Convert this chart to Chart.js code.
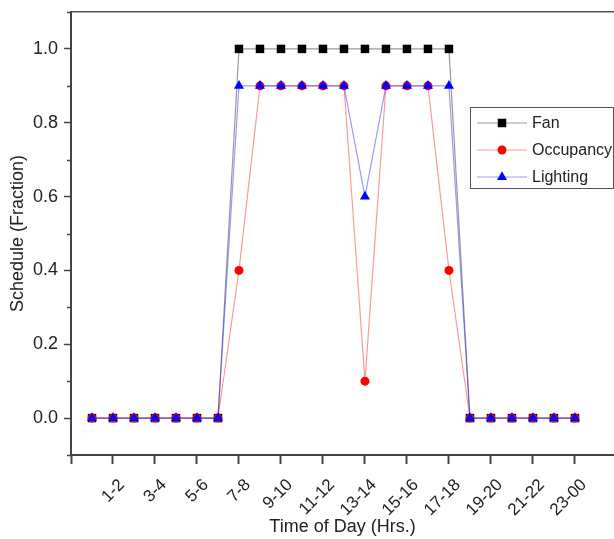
<!DOCTYPE html>
<html>
<head>
<meta charset="utf-8">
<script src="https://cdn.jsdelivr.net/npm/chart.js@4.4.1/dist/chart.umd.min.js"></script>
<style>
  html, body { margin: 0; padding: 0; background: #fff; overflow: hidden; }
  canvas { display: block; }
</style>
</head>
<body>
<canvas id="scheduleChart" width="614" height="539"></canvas>
<script>
// hourly slots, one per point
const hours = ['0-1', '1-2', '2-3', '3-4', '4-5', '5-6', '6-7', '7-8', '8-9', '9-10', '10-11', '11-12',
               '12-13', '13-14', '14-15', '15-16', '16-17', '17-18', '18-19', '19-20', '20-21', '21-22', '22-23', '23-00'];

const fan       = [0, 0, 0, 0, 0, 0, 0, 1.0, 1.0, 1.0, 1.0, 1.0, 1.0, 1.0, 1.0, 1.0, 1.0, 1.0, 0, 0, 0, 0, 0, 0];
const occupancy = [0, 0, 0, 0, 0, 0, 0, 0.4, 0.9, 0.9, 0.9, 0.9, 0.9, 0.1, 0.9, 0.9, 0.9, 0.4, 0, 0, 0, 0, 0, 0];
const lighting  = [0, 0, 0, 0, 0, 0, 0, 0.9, 0.9, 0.9, 0.9, 0.9, 0.9, 0.6, 0.9, 0.9, 0.9, 0.9, 0, 0, 0, 0, 0, 0];

// tick positions (index into hours) and y ticks
const xTicks = [-1, 1, 3, 5, 7, 9, 11, 13, 15, 17, 19, 21, 23];
const yTicks = [0, 0.2, 0.4, 0.6, 0.8, 1.0];
const yMinorTicks = [-0.1, 0.1, 0.3, 0.5, 0.7, 0.9, 1.1];

const FONT = "'Liberation Sans', Arial, sans-serif";
const TEXT = '#222';
const AXIS = '#444';

function toPoints(arr) {
    return arr.map((v, i) => ({ x: i, y: v }));
}

// small minor tick marks on the y axis + boxed legend
const extras = {
    id: 'extras',
    afterDraw(chart) {
        const ctx = chart.ctx;
        const y = chart.scales.y;
        const left = chart.chartArea.left;
        ctx.save();
        ctx.strokeStyle = AXIS;
        ctx.lineWidth = 1.5;
        yMinorTicks.forEach(v => {
            const py = Math.round(y.getPixelForValue(v)) + 0.5;
            ctx.beginPath();
            ctx.moveTo(left - 4, py);
            ctx.lineTo(left, py);
            ctx.stroke();
        });

        // legend box
        const bx = 470, by = 107, bw = 143, bh = 81;
        ctx.strokeStyle = '#555';
        ctx.lineWidth = 1;
        ctx.strokeRect(bx + 0.5, by + 0.5, bw, bh);
        ctx.font = '16px ' + FONT;
        ctx.textBaseline = 'middle';
        ctx.textAlign = 'left';
        chart.data.datasets.forEach((ds, i) => {
            const ry = by + 16 + i * 27;
            ctx.strokeStyle = ds.borderColor;
            ctx.lineWidth = ds.borderWidth;
            ctx.beginPath();
            ctx.moveTo(bx + 7, ry);
            ctx.lineTo(bx + 57, ry);
            ctx.stroke();
            ctx.fillStyle = ds.pointBackgroundColor;
            ctx.strokeStyle = ds.pointBackgroundColor;
            Chart.helpers.drawPoint(ctx, { pointStyle: ds.pointStyle, radius: ds.pointRadius, borderWidth: 0, rotation: 0 }, bx + 32, ry);
            ctx.fillStyle = TEXT;
            ctx.fillText(ds.label, bx + 62, ry + 1);
        });
        ctx.restore();
    }
};

const ctx = document.getElementById('scheduleChart').getContext('2d');
const scheduleChart = new Chart(ctx, {
    type: 'line',
    data: {
        datasets: [
            {
                label: 'Fan',
                data: toPoints(fan),
                borderColor: 'rgba(0,0,0,0.4)',
                borderWidth: 1.2,
                pointStyle: 'rect',
                pointRadius: 6,
                pointBackgroundColor: '#000',
                pointBorderWidth: 0,
                order: 3
            },
            {
                label: 'Occupancy',
                data: toPoints(occupancy),
                borderColor: 'rgba(255,0,0,0.4)',
                borderWidth: 1.2,
                pointStyle: 'circle',
                pointRadius: 4.5,
                pointBackgroundColor: '#ff0000',
                pointBorderWidth: 0,
                order: 2
            },
            {
                label: 'Lighting',
                data: toPoints(lighting),
                borderColor: 'rgba(0,0,255,0.4)',
                borderWidth: 1.2,
                pointStyle: 'triangle',
                pointRadius: 5.8,
                pointBackgroundColor: '#0000ff',
                pointBorderWidth: 0,
                order: 1
            }
        ]
    },
    options: {
        responsive: false,
        animation: false,
        layout: { autoPadding: false, padding: { top: 12, left: 0, right: 0, bottom: 0 } },
        plugins: {
            legend: { display: false },
            tooltip: { enabled: false }
        },
        scales: {
            x: {
                type: 'linear',
                position: 'bottom',
                min: -1,
                max: 24.86,
                afterBuildTicks: scale => { scale.ticks = xTicks.map(v => ({ value: v })); },
                afterFit: scale => { scale.height = 84; scale.paddingLeft = 0; scale.paddingRight = 0; },
                ticks: {
                    autoSkip: false,
                    minRotation: 45,
                    maxRotation: 45,
                    padding: 11,
                    labelOffset: 9,
                    color: TEXT,
                    font: { family: FONT, size: 17 },
                    callback: v => (v >= 0 ? hours[v] : '')
                },
                grid: { drawOnChartArea: false, drawTicks: true, tickLength: 9, tickWidth: 2, tickColor: AXIS },
                border: { display: true, color: AXIS, width: 2 },
                title: {
                    display: true,
                    text: 'Time of Day (Hrs.)',
                    color: TEXT,
                    font: { family: FONT, size: 18 },
                    padding: { top: 0, bottom: 1 }
                }
            },
            x2: {
                type: 'linear',
                position: 'top',
                min: -1,
                max: 24.86,
                afterFit: scale => { scale.height = 0; },
                ticks: { display: false },
                grid: { display: false, drawTicks: false },
                border: { display: true, color: '#555', width: 1.5 }
            },
            y: {
                min: -0.1,
                max: 1.1,
                afterBuildTicks: scale => { scale.ticks = yTicks.map(v => ({ value: v })); },
                afterFit: scale => { scale.width = 71; scale.paddingTop = 0; scale.paddingBottom = 0; },
                ticks: {
                    padding: 6,
                    color: TEXT,
                    font: { family: FONT, size: 18 },
                    callback: v => v.toFixed(1)
                },
                grid: { drawOnChartArea: false, drawTicks: true, tickLength: 7, tickWidth: 1.5, tickColor: AXIS },
                border: { display: true, color: AXIS, width: 2 },
                title: {
                    display: true,
                    text: 'Schedule (Fraction)',
                    color: TEXT,
                    font: { family: FONT, size: 18 },
                    padding: { top: 7, bottom: 0 }
                }
            }
        }
    },
    plugins: [extras]
});
</script>
</body>
</html>
